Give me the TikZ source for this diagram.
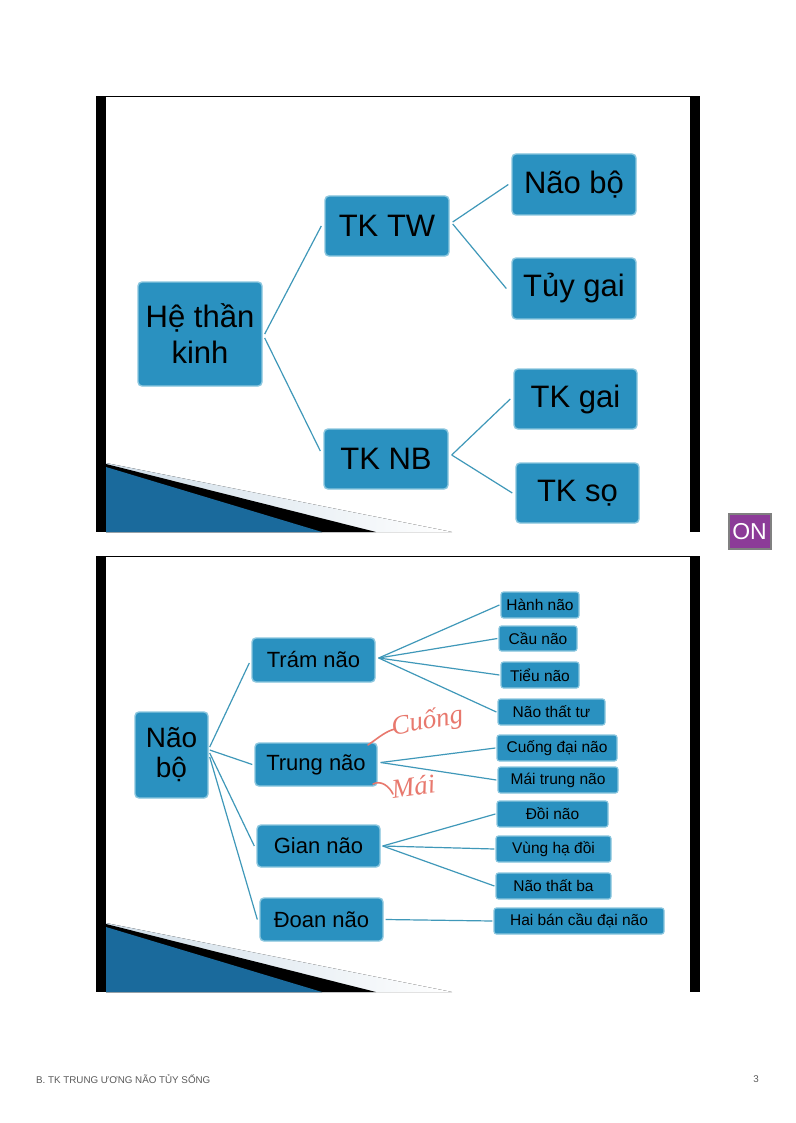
\documentclass[tikz,border=0pt]{standalone}
\usepackage{fontspec}
\setmainfont{Liberation Sans}
\newfontfamily\handfont{Liberation Serif}
\usetikzlibrary{calc}

\definecolor{boxfill}{HTML}{2A91C0}
\definecolor{boxline}{HTML}{8AC6DE}
\definecolor{linkcol}{HTML}{3F98B9}
\definecolor{inkred}{HTML}{E8786D}
\definecolor{tabpurple}{HTML}{8C3B98}
\definecolor{wedgelight}{HTML}{CFDDE8}
\definecolor{wedgedark}{HTML}{1A6A9C}
\definecolor{wedgemid}{HTML}{47A8D8}
\definecolor{footgray}{HTML}{5A5A5A}

\tikzset{
  box/.style={draw=boxline, line width=1.4pt, fill=boxfill, rounded corners=4pt,
    inner sep=0pt, align=center, text=black},
  bigbox/.style={box, font=\fontsize{31}{36}\selectfont},
  midbox/.style={box, font=\fontsize{22}{26}\selectfont},
  smallbox/.style={box, rounded corners=2.5pt, line width=1.2pt,
    font=\fontsize{15.5}{18}\selectfont},
  link/.style={draw=linkcol, line width=1.2pt},
  ink/.style={draw=inkred, line width=1.6pt, line cap=round},
  inktext/.style={text=inkred, inner sep=0pt,
    font=\handfont\itshape\fontsize{27}{27}\selectfont},
}

\begin{document}
\begin{tikzpicture}[x=1pt, y=-1pt]
\useasboundingbox (0,0) rectangle (795,1123);
\fill[white] (0,0) rectangle (795,1123);

% slide frames with the corner wedge
\foreach \oy in {0,460} {
  \fill[left color=wedgelight, right color=white] (106,{463+\oy}) -- (452,{532+\oy}) -- (106,{532+\oy}) -- cycle;
  \fill[black] (106,{464+\oy}) -- (376,{532+\oy}) -- (106,{532+\oy}) -- cycle;
  \fill[left color=wedgedark, middle color=wedgemid, right color=wedgedark] (106,{467+\oy}) -- (322,{532+\oy}) -- (106,{532+\oy}) -- cycle;
  \fill[black] (96,{96+\oy}) rectangle (106,{532+\oy});
  \fill[black] (690,{96+\oy}) rectangle (700,{532+\oy});
  \draw[black, line width=1pt] (96,{96.5+\oy}) -- (700,{96.5+\oy});
}

% nervous system overview
\node[bigbox, minimum width=124, minimum height=104] (he) at (200,334) {Hệ thần\\kinh};
\node[bigbox, minimum width=124, minimum height=60] (tw) at (387,226) {TK TW};
\node[bigbox, minimum width=124, minimum height=60] (nb) at (386,459) {TK NB};
\node[bigbox, minimum width=124, minimum height=61] (naobo) at (574,184.5) {Não bộ};
\node[bigbox, minimum width=124, minimum height=61] (tuy) at (574,288.5) {Tủy gai};
\node[bigbox, minimum width=123, minimum height=60] (gai) at (575.5,399) {TK gai};
\node[bigbox, minimum width=123, minimum height=60] (so) at (577.5,493) {TK sọ};

\draw[link] ([xshift=2]he.east) -- ([xshift=-3]tw.west);
\draw[link] ([xshift=2,yshift=-4]he.east) -- ([xshift=-3,yshift=8]nb.west);
\draw[link] ([xshift=3,yshift=4]tw.east) -- ([xshift=-3]naobo.west);
\draw[link] ([xshift=3,yshift=2]tw.east) -- ([xshift=-5]tuy.west);
\draw[link] ([xshift=3,yshift=4]nb.east) -- ([xshift=-3]gai.west);
\draw[link] ([xshift=3,yshift=4]nb.east) -- ([xshift=-3]so.west);

% brain subdivisions
\node[box, font=\fontsize{28}{30}\selectfont, minimum width=73, minimum height=86] (nb2) at (171.5,755) {Não\\bộ};
\node[midbox, minimum width=123, minimum height=44] (tram) at (313.5,660) {Trám não};
\node[midbox, minimum width=122, minimum height=43] (trung) at (316,764.5) {Trung não};
\node[midbox, minimum width=123, minimum height=42] (gian) at (318.5,846) {Gian não};
\node[midbox, minimum width=123, minimum height=43] (doan) at (321.5,919.5) {Đoan não};

\node[smallbox, minimum width=78, minimum height=26] (hanh) at (540,605) {Hành não};
\node[smallbox, minimum width=78, minimum height=25] (cau) at (538,638.5) {Cầu não};
\node[smallbox, minimum width=78, minimum height=26] (tieu) at (540,675) {Tiểu não};
\node[smallbox, minimum width=107, minimum height=26] (ntt) at (551.5,712) {Não thất tư};
\node[smallbox, minimum width=120, minimum height=26] (cuong) at (557,748) {Cuống đại não};
\node[smallbox, minimum width=120, minimum height=26] (mai) at (558,780) {Mái trung não};
\node[smallbox, minimum width=111, minimum height=26] (doi) at (552.5,814) {Đồi não};
\node[smallbox, minimum width=115, minimum height=26] (vung) at (553.5,849) {Vùng hạ đồi};
\node[smallbox, minimum width=115, minimum height=26] (ntb) at (553.5,886) {Não thất ba};
\node[smallbox, minimum width=170, minimum height=26] (hai) at (579,921) {Hai bán cầu đại não};

\draw[link] ([xshift=1,yshift=8]nb2.east) -- ([xshift=-2,yshift=-3]tram.west);
\draw[link] ([xshift=1,yshift=5]nb2.east) -- ([xshift=-2]trung.west);
\draw[link] ([xshift=1,yshift=2]nb2.east) -- ([xshift=-2]gian.west);
\draw[link] ([xshift=1,yshift=-2]nb2.east) -- ([xshift=-2]doan.west);

\draw[link] ([xshift=3,yshift=2]tram.east) -- ([xshift=-1]hanh.west);
\draw[link] ([xshift=3,yshift=2]tram.east) -- ([xshift=-1]cau.west);
\draw[link] ([xshift=3,yshift=2]tram.east) -- ([xshift=-1]tieu.west);
\draw[link] ([xshift=3,yshift=2]tram.east) -- ([xshift=-1]ntt.west);
\draw[link] ([xshift=3,yshift=2]trung.east) -- ([xshift=-1]cuong.west);
\draw[link] ([xshift=3,yshift=2]trung.east) -- ([xshift=-1]mai.west);
\draw[link] ([xshift=2]gian.east) -- ([xshift=-1]doi.west);
\draw[link] ([xshift=2]gian.east) -- ([xshift=-1]vung.west);
\draw[link] ([xshift=2]gian.east) -- ([xshift=-1]ntb.west);
\draw[link] ([xshift=2]doan.east) -- ([xshift=-1]hai.west);

% handwritten notes
\coordinate (c1) at (368,745);
\coordinate (c2) at (395,729);
\draw[ink] (c1) .. controls (378,738) and (386,731) .. (c2);
\node[inktext, rotate=10, anchor=south west] (cnote) at (394,741) {Cuống};
\coordinate (m1) at (373,784);
\coordinate (m2) at (393,794);
\draw[ink] (m1) .. controls (381,780) and (389,786) .. (m2);
\node[inktext, rotate=8, anchor=south west] (mnote) at (393,799) {Mái};

% side tab
\node[draw=gray, line width=2pt, fill=tabpurple, text=white, minimum width=42, minimum height=35,
  inner sep=0pt, font=\fontsize{23}{23}\selectfont] (tab) at (749.5,531.5) {ON};

% footer
\node[anchor=west, text=footgray, inner sep=0pt, font=\fontsize{9.8}{11}\selectfont] (foot) at (36,1079) {B. TK TRUNG ƯƠNG NÃO TỦY SỐNG};
\node[anchor=east, text=footgray, inner sep=0pt, font=\fontsize{9.8}{11}\selectfont] (pg) at (759,1079) {3};
\end{tikzpicture}
\end{document}
